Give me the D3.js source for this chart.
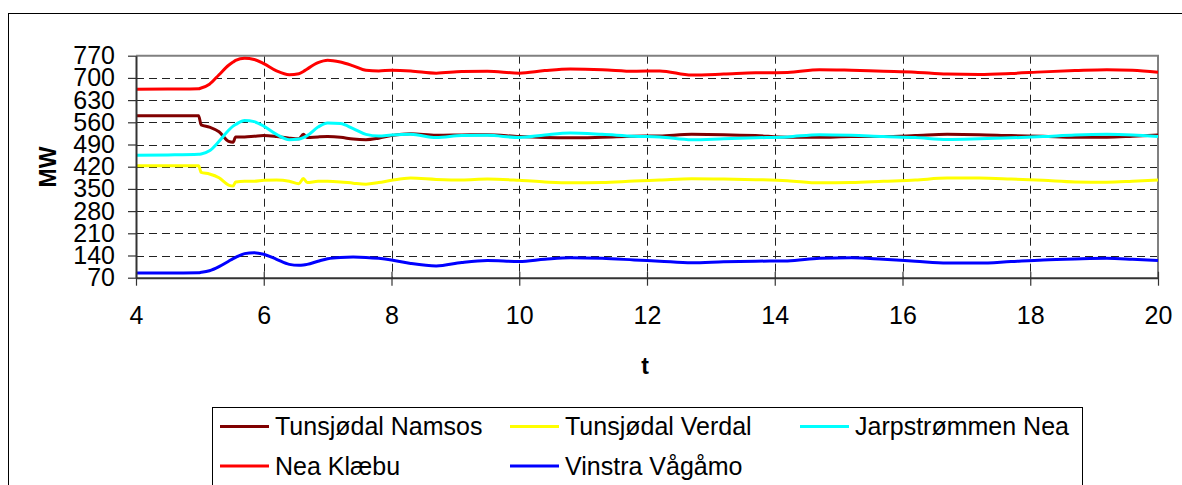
<!DOCTYPE html>
<html>
<head>
<meta charset="utf-8">
<script src="https://cdn.jsdelivr.net/npm/d3@7"></script>
<style>
  html, body { margin: 0; padding: 0; background: #fff; }
  svg { display: block; font-family: "Liberation Sans", Arial, sans-serif; }
</style>
</head>
<body>
<svg id="chart" width="1182" height="485"></svg>
<script>
// Time axis (seconds) shared by all series
const time = [4, 4.5, 4.98, 5.02, 5.15, 5.3, 5.45, 5.52, 5.56, 5.7,
  5.85, 6.0, 6.2, 6.4, 6.55, 6.62, 6.68, 6.85, 7.0, 7.2,
  7.4, 7.6, 7.8, 8.0, 8.3, 8.7, 9.1, 9.5, 10.0, 10.4,
  10.8, 11.3, 11.8, 12.2, 12.7, 13.2, 13.7, 14.2, 14.7, 15.2,
  15.7, 16.2, 16.7, 17.2, 17.7, 18.2, 18.7, 19.2, 19.6, 20];

// Power flow per line (MW)
const tunsjodalNamsos = [581, 581, 581, 552, 545, 530, 500, 497, 514, 514,
  516, 518, 515, 510, 508, 522, 512, 514, 515, 513,
  507, 505, 510, 518, 524, 519, 520, 521, 515, 512,
  511, 513, 516, 517, 522, 521, 518, 513, 513, 515,
  515, 518, 522, 521, 518, 516, 513, 513, 516, 520];

const tunsjodalVerdal = [423, 423, 423, 402, 397, 385, 362, 359, 372, 374,
  374, 377, 378, 374, 366, 383, 370, 374, 374, 372,
  368, 365, 370, 377, 384, 380, 378, 381, 377, 372,
  369, 370, 375, 378, 382, 381, 379, 376, 369, 370,
  374, 378, 384, 384, 381, 377, 372, 371, 374, 378];

const jarpstrommenNea = [456, 457, 459, 460, 470, 500, 535, 548, 553, 566,
  562, 548, 522, 505, 507, 512, 518, 545, 558, 556,
  540, 522, 517, 520, 522, 512, 518, 519, 512, 520,
  526, 522, 516, 514, 505, 508, 511, 514, 521, 519,
  515, 512, 506, 508, 511, 515, 520, 522, 520, 515];

const neaKlaebu = [664, 665, 666, 668, 680, 710, 740, 750, 755, 762,
  758, 745, 722, 710, 713, 720, 728, 748, 756, 750,
  738, 724, 722, 724, 722, 715, 720, 721, 715, 723,
  728, 726, 721, 722, 709, 712, 716, 717, 726, 724,
  721, 718, 712, 711, 714, 719, 723, 726, 724, 718];

const vinstraVagamo = [85, 85, 86, 87, 92, 105, 122, 130, 134, 146,
  149, 144, 128, 112, 109, 110, 112, 122, 130, 134,
  135, 134, 131, 126, 115, 107, 118, 124, 121, 128,
  133, 131, 126, 122, 117, 120, 122, 123, 131, 133,
  128, 122, 116, 116, 121, 126, 129, 131, 128, 124];

const seriesNames = ["Tunsjødal Namsos", "Tunsjødal Verdal", "Jarpstrømmen Nea", "Nea Klæbu", "Vinstra Vågåmo"];
const seriesValues = [tunsjodalNamsos, tunsjodalVerdal, jarpstrommenNea, neaKlaebu, vinstraVagamo];
const seriesColors = ["#800000", "#FFFF00", "#00FFFF", "#FF0000", "#0000FF"];

const xTicks = [4, 6, 8, 10, 12, 14, 16, 18, 20];
const yTicks = [70, 140, 210, 280, 350, 420, 490, 560, 630, 700, 770];

const svg = d3.select("#chart");

// Outer chart frame
svg.append("rect")
  .attr("x", 8.5).attr("y", 13.5)
  .attr("width", 1180).attr("height", 480)
  .attr("fill", "none").attr("stroke", "#000").attr("stroke-width", 1);

const plot = { left: 136, right: 1158, top: 55.7, bottom: 277.7 };

const x = d3.scaleLinear().domain([4, 20]).range([plot.left, plot.right]);
const y = d3.scaleLinear().domain([70, 770]).range([plot.bottom, plot.top]);

// Grid lines
const grid = svg.append("g").attr("stroke", "#222").attr("stroke-width", 1)
  .attr("stroke-dasharray", "8,5");
grid.selectAll("line.h").data(yTicks.filter(v => v > 70 && v < 770)).join("line")
  .attr("x1", plot.left).attr("x2", plot.right)
  .attr("y1", d => Math.round(y(d)) + 0.5).attr("y2", d => Math.round(y(d)) + 0.5);
grid.selectAll("line.v").data(xTicks.filter(v => v > 4 && v < 20)).join("line")
  .attr("y1", plot.top).attr("y2", plot.bottom)
  .attr("x1", d => Math.round(x(d)) + 0.5).attr("x2", d => Math.round(x(d)) + 0.5);

// Top and right plot border
svg.append("path")
  .attr("d", `M${plot.left},${plot.top}H${plot.right}V${plot.bottom}`)
  .attr("fill", "none").attr("stroke", "#808080").attr("stroke-width", 2);

// Series lines
const line = d3.line()
  .x((d, i) => x(time[i]))
  .y(d => y(d))
  .curve(d3.curveMonotoneX);

svg.append("g").selectAll("path").data(seriesValues).join("path")
  .attr("d", d => line(d))
  .attr("fill", "none")
  .attr("stroke", (d, i) => seriesColors[i])
  .attr("stroke-width", 3)
  .attr("stroke-linejoin", "round");

// Y axis
const yAxis = svg.append("g")
  .attr("transform", `translate(${plot.left},0)`)
  .call(d3.axisLeft(y).tickValues(yTicks).tickSize(8).tickPadding(13).tickSizeOuter(0));
yAxis.select(".domain").attr("stroke", "#333").attr("stroke-width", 2);
yAxis.selectAll(".tick line").attr("stroke", "#333").attr("stroke-width", 1.2);
yAxis.selectAll(".tick text").attr("font-size", 25).attr("fill", "#000")
  .attr("font-family", "'Liberation Sans', Arial, sans-serif");

// X axis
const xAxis = svg.append("g")
  .attr("transform", `translate(0,${plot.bottom})`)
  .call(d3.axisBottom(x).tickValues(xTicks).tickSize(8).tickPadding(21).tickSizeOuter(0)
    .tickFormat(d3.format("d")));
xAxis.select(".domain").attr("stroke", "#333").attr("stroke-width", 2);
xAxis.selectAll(".tick line").attr("y1", -6).attr("stroke", "#333").attr("stroke-width", 1.2);
xAxis.selectAll(".tick text").attr("font-size", 25).attr("fill", "#000")
  .attr("font-family", "'Liberation Sans', Arial, sans-serif");

// Axis titles
svg.append("text")
  .attr("transform", "translate(48,167) rotate(-90)")
  .attr("text-anchor", "middle").attr("dy", "0.35em")
  .attr("font-size", 23).attr("font-weight", "bold")
  .text("MW");
svg.append("text")
  .attr("x", 645).attr("y", 366)
  .attr("text-anchor", "middle").attr("dy", "0.35em")
  .attr("font-size", 23).attr("font-weight", "bold")
  .text("t");

// Legend
svg.append("rect")
  .attr("x", 212.5).attr("y", 407.5)
  .attr("width", 870).attr("height", 90)
  .attr("fill", "#fff").attr("stroke", "#000").attr("stroke-width", 1);

const legendCols = [220, 510, 800];
const legendRows = [426.5, 466];
const legend = svg.append("g").selectAll("g").data(seriesNames).join("g")
  .attr("transform", (d, i) => `translate(${legendCols[i % 3]},${legendRows[Math.floor(i / 3)]})`);
legend.append("line")
  .attr("x1", 0).attr("x2", 49).attr("y1", 0).attr("y2", 0)
  .attr("stroke", (d, i) => seriesColors[i]).attr("stroke-width", 3);
legend.append("text")
  .attr("x", 55).attr("y", 0).attr("dy", "0.35em")
  .attr("font-size", 25)
  .text(d => d);
</script>
</body>
</html>
